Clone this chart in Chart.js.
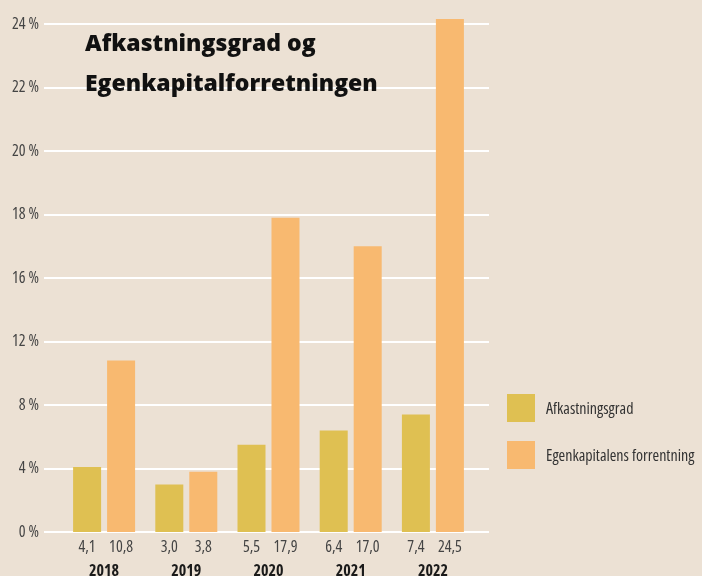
<!DOCTYPE html>
<html lang="da">
<head>
<meta charset="UTF-8">
<title>Afkastningsgrad og Egenkapitalforretningen</title>
<script src="https://cdn.jsdelivr.net/npm/chart.js@4"></script>
<style>
  html, body { margin: 0; padding: 0; background: #ece1d4; }
</style>
</head>
<body>
<canvas id="chart" width="702" height="576"></canvas>
<script>
// data
const years = ["2018", "2019", "2020", "2021", "2022"];
const afkastningsgrad = [4.1, 3.0, 5.5, 6.4, 7.4];
const egenkapital = [10.8, 3.8, 17.9, 17.0, 24.5];
const yTicks = [0, 4, 8, 12, 16, 18, 20, 22, 24];
const seriesNames = ["Afkastningsgrad", "Egenkapitalens forrentning"];
const titleLines = ["Afkastningsgrad og", "Egenkapitalforretningen"];

const colors = ["#dfc052", "#f8b970"];
const narrow = "'Open Sans', sans-serif";
// canvas font shorthand takes a stretch keyword, so pass it with the weight
const narrowCss = "condensed 16px " + narrow;

// the printed axis has evenly spaced ticks that are not evenly valued,
// so map values step by step between the tick values
function toStep(v) {
  const n = yTicks.length - 1;
  for (let i = 0; i < n; i++) {
    if (v <= yTicks[i + 1] || i === n - 1) {
      return i + (v - yTicks[i]) / (yTicks[i + 1] - yTicks[i]);
    }
  }
}
function fromStep(s) {
  const n = yTicks.length - 1;
  const i = Math.min(Math.max(Math.floor(s), 0), n - 1);
  return yTicks[i] + (s - i) * (yTicks[i + 1] - yTicks[i]);
}

class StepScale extends Chart.LinearScale {
  buildTicks() {
    return yTicks.map((v) => ({ value: v }));
  }
  getPixelForValue(v) {
    return this.getPixelForDecimal(toStep(v) / (yTicks.length - 1));
  }
  getValueForPixel(p) {
    return fromStep(this.getDecimalForPixel(p) * (yTicks.length - 1));
  }
}
StepScale.id = "step";
StepScale.defaults = Chart.LinearScale.defaults;
Chart.register(StepScale);

const fmt = (v) => v.toFixed(1).replace(".", ",");

const gridLines = {
  id: "gridLines",
  beforeDatasetsDraw(chart) {
    const { ctx, chartArea, scales } = chart;
    ctx.save();
    ctx.strokeStyle = "#ffffff";
    ctx.lineWidth = 2;
    scales.y.ticks.forEach((t) => {
      const y = Math.round(scales.y.getPixelForValue(t.value));
      ctx.beginPath();
      ctx.moveTo(chartArea.left - 19, y);
      ctx.lineTo(chartArea.right + 15, y);
      ctx.stroke();
    });
    ctx.restore();
  },
};

const extras = {
  id: "extras",
  afterDraw(chart) {
    const { ctx, chartArea } = chart;
    ctx.save();
    // values under bars
    ctx.font = narrowCss;
    ctx.fillStyle = "#444";
    ctx.textAlign = "center";
    ctx.textBaseline = "middle";
    chart.data.datasets.forEach((ds, d) => {
      chart.getDatasetMeta(d).data.forEach((bar, i) => {
        ctx.fillText(fmt(ds.data[i]), bar.x, chartArea.bottom + 15);
      });
    });

    // title
    ctx.font = "800 23px 'Open Sans', sans-serif";
    ctx.fillStyle = "#111";
    ctx.textAlign = "left";
    ctx.textBaseline = "alphabetic";
    titleLines.forEach((line, i) => {
      ctx.fillText(line, 85, 51 + i * 40);
    });

    // legend
    ctx.font = narrowCss;
    ctx.textBaseline = "middle";
    seriesNames.forEach((name, i) => {
      const y = 394 + i * 47;
      ctx.fillStyle = colors[i];
      ctx.fillRect(507, y, 28, 28);
      ctx.fillStyle = "#333";
      ctx.fillText(name, 546, y + 15);
    });
    ctx.restore();
  },
};

const barStyle = {
  categoryPercentage: 0.827,
  barPercentage: 0.824,
  clip: { left: false, top: 5, right: false, bottom: false },
};

new Chart(document.getElementById("chart"), {
  type: "bar",
  data: {
    labels: years,
    datasets: [
      { label: seriesNames[0], data: afkastningsgrad, backgroundColor: colors[0], ...barStyle },
      { label: seriesNames[1], data: egenkapital, backgroundColor: colors[1], ...barStyle },
    ],
  },
  options: {
    responsive: false,
    animation: false,
    layout: { padding: { top: 24, right: 228, bottom: 0, left: 0 } },
    plugins: {
      legend: { display: false },
      tooltip: { enabled: false },
    },
    scales: {
      x: {
        grid: { display: false, drawTicks: false },
        border: { display: false },
        ticks: {
          color: "#1a1a1a",
          font: { family: narrow, size: 16, weight: "bold condensed" },
          padding: 30,
        },
        afterFit(s) {
          s.height = 44;
        },
      },
      y: {
        type: "step",
        min: 0,
        max: 24,
        grid: { display: false, drawTicks: false },
        border: { display: false },
        ticks: {
          autoSkip: false,
          color: "#444",
          font: { family: narrow, size: 16, weight: "condensed" },
          padding: 24,
          callback: (v) => v + " %",
        },
        afterFit(s) {
          s.width = 63;
          // tick padding would otherwise push the plot top down
          s.paddingTop = 0;
          s.paddingBottom = 0;
        },
      },
    },
  },
  plugins: [gridLines, extras],
});
</script>
</body>
</html>
